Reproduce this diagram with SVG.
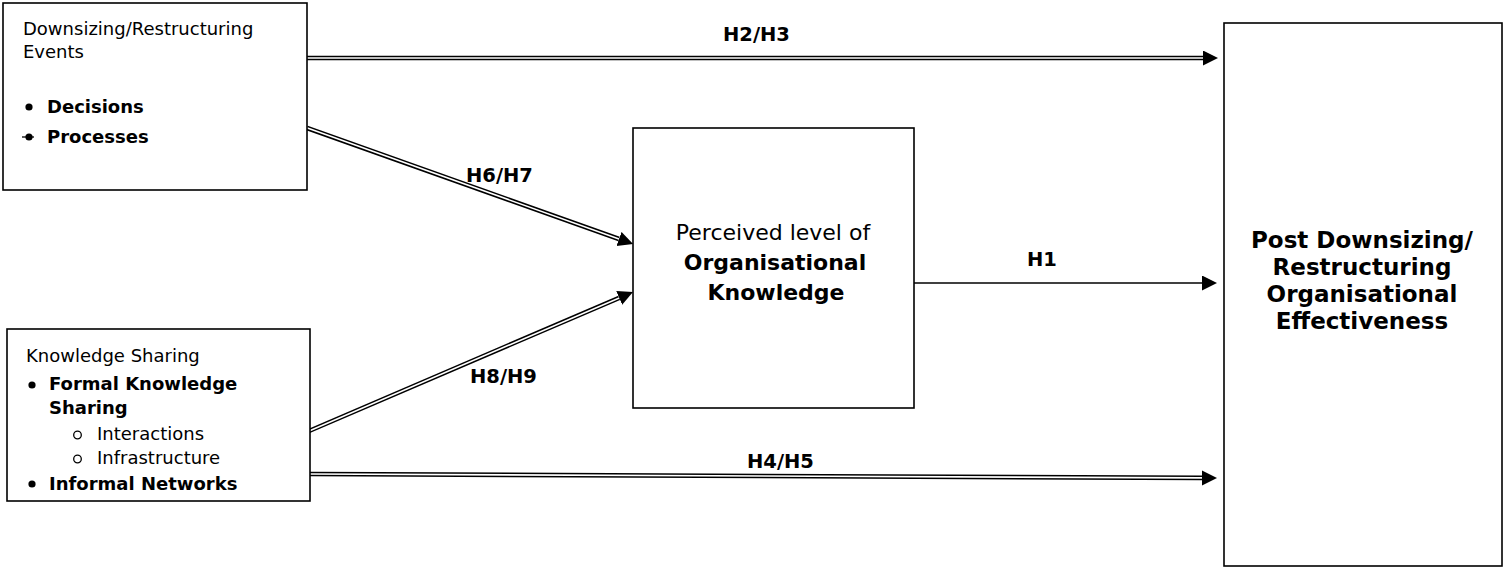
<svg xmlns="http://www.w3.org/2000/svg" width="1507" height="572" viewBox="0 0 1507 572">
<style>
.box{fill:#fff;stroke:#000;stroke-width:1.6}
.t{font-family:"DejaVu Sans",sans-serif;font-size:18px;fill:#000}
.b{font-weight:bold}
.c{text-anchor:middle}
.big{font-size:22px}
.lab{font-family:"DejaVu Sans",sans-serif;font-size:19.5px;font-weight:bold;fill:#000}
.outer{fill:none;stroke:#000;stroke-width:4.6}
.inner{fill:none;stroke:#fff;stroke-width:1.6}
.single{fill:none;stroke:#000;stroke-width:1.6}
.bul{fill:#000}
.sub{fill:none;stroke:#000;stroke-width:1.3}
</style>
<defs>
<marker id="ah" markerUnits="userSpaceOnUse" markerWidth="16" markerHeight="16" refX="0" refY="7.5" orient="auto" viewBox="0 0 16 16">
<path d="M0,0 L15,7.5 L0,15 z" fill="#000"/>
</marker>
</defs>
<g id="connectors">
<g id="c-h2h3">
<line class="outer" x1="307" y1="58" x2="1203" y2="58"/>
<line class="inner" x1="306" y1="58" x2="1203" y2="58" marker-end="url(#ah)"/>
</g>
<g id="c-h6h7">
<line class="outer" x1="307" y1="128" x2="619" y2="239"/>
<line class="inner" x1="306" y1="127.6" x2="619" y2="239" marker-end="url(#ah)"/>
</g>
<g id="c-h8h9">
<line class="outer" x1="309" y1="431" x2="619.2" y2="297.9"/>
<line class="inner" x1="308" y1="431.4" x2="619.2" y2="297.9" marker-end="url(#ah)"/>
</g>
<g id="c-h4h5">
<line class="outer" x1="310" y1="474" x2="1202" y2="477.9"/>
<line class="inner" x1="309" y1="474" x2="1202" y2="477.9" marker-end="url(#ah)"/>
</g>
<g id="c-h1">
<line class="single" x1="914" y1="283" x2="1202" y2="283" marker-end="url(#ah)"/>
</g>
<text class="lab" x="723" y="41">H2/H3</text>
<text class="lab" x="466" y="182">H6/H7</text>
<text class="lab" x="470" y="383">H8/H9</text>
<text class="lab" x="1027" y="266">H1</text>
<text class="lab" x="747" y="468">H4/H5</text>
</g>
<g id="n-events">
<rect class="box" x="3" y="3" width="304" height="187"/>
<text class="t" x="23" y="35">Downsizing/Restructuring</text>
<text class="t" x="23" y="58">Events</text>
<circle class="bul" cx="29" cy="107" r="3.6"/>
<text class="t b" x="47" y="113">Decisions</text>
<circle class="bul" cx="29" cy="137" r="3.6"/>
<line x1="22" y1="137" x2="34" y2="137" stroke="#000" stroke-width="1.3"/>
<text class="t b" x="47" y="143">Processes</text>
</g>
<g id="n-knowledge-sharing">
<rect class="box" x="7" y="329" width="303" height="172"/>
<text class="t" x="26" y="362">Knowledge Sharing</text>
<circle class="bul" cx="32" cy="385" r="3.6"/>
<text class="t b" x="49" y="390">Formal Knowledge</text>
<text class="t b" x="49" y="414">Sharing</text>
<circle class="sub" cx="77.5" cy="435" r="3.8"/>
<text class="t" x="97" y="440">Interactions</text>
<circle class="sub" cx="77.5" cy="459" r="3.8"/>
<text class="t" x="97" y="464">Infrastructure</text>
<circle class="bul" cx="32" cy="484" r="3.6"/>
<text class="t b" x="49" y="490">Informal Networks</text>
</g>
<g id="n-perceived">
<rect class="box" x="633" y="128" width="281" height="280"/>
<text class="t c big" x="773" y="240">Perceived level of</text>
<text class="t c big b" x="775" y="270">Organisational</text>
<text class="t c big b" x="776" y="300">Knowledge</text>
</g>
<g id="n-effectiveness">
<rect class="box" x="1224" y="23" width="278" height="543"/>
<text class="t c b" style="font-size:23px" x="1362" y="248">Post Downsizing/</text>
<text class="t c b" style="font-size:23px" x="1362" y="275">Restructuring</text>
<text class="t c b" style="font-size:23px" x="1362" y="302">Organisational</text>
<text class="t c b" style="font-size:23px" x="1362" y="329">Effectiveness</text>
</g>
</svg>
